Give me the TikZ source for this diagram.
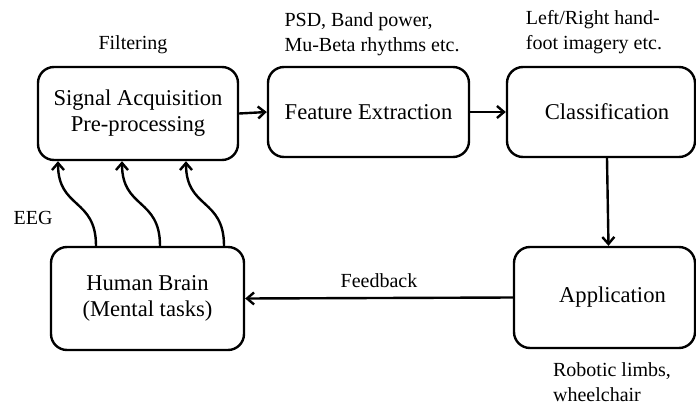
\documentclass[tikz,border=0pt]{standalone}
\usepackage{fontspec}
\setmainfont{Liberation Serif}
\usetikzlibrary{arrows.meta}

\tikzset{
  block/.style={draw, line width=1.2pt, rounded corners=8pt, align=center, font=\fontsize{11.3}{13}\selectfont},
  note/.style={align=left, font=\fontsize{10}{12.5}\selectfont},
  arr/.style={line width=1.2pt, -{Straight Barb[length=3.5pt,width=6pt]}},
}

\begin{document}
\begin{tikzpicture}[x=0.5pt,y=-0.5pt]
\useasboundingbox (0,0) rectangle (696,407);
% processing chain
\node[block, minimum width=100pt, minimum height=46.5pt] (sig) at (138,113.5) {Signal Acquisition\\Pre-processing};
\node[block, minimum width=100.5pt, minimum height=45pt] (feat) at (368.5,112) {Feature Extraction};
\node[block, minimum width=94pt, minimum height=45pt] (class) at (601,112) {\hspace{6pt}Classification};
\node[block, minimum width=90.5pt, minimum height=50.5pt] (app) at (604.5,297.5) {\hspace{8pt}Application};
\node[block, minimum width=96.5pt, minimum height=51.5pt] (brain) at (147.5,298.5) {Human Brain\\(Mental tasks)};
% side notes
\node[note] (filt) at (133,45) {Filtering};
\node[note] (psd) at (372,34) {PSD, Band power,\\Mu-Beta rhythms etc.};
\node[note] (imag) at (594,32) {Left/Right hand-\\foot imagery etc.};
\node[note] (robot) at (612,382) {Robotic limbs,\\wheelchair};
\node[note] (eeg) at (33,218) {EEG};
% arrows
\draw[arr] (sig.east) -- (feat.west); % acquisition to features
\draw[arr] (feat.east) -- (class.west); % features to classifier
\draw[arr] ([xshift=3pt]class.south) -- ([xshift=2pt]app.north); % classifier to device
\draw[arr] (app.west) -- node[note, above=1pt] (fb) {Feedback} (brain.east); % feedback
% EEG signals
\foreach \a/\b in {-25.75/-40, 6.25/-8, 38.25/24}
  \draw[arr] ([xshift=\a pt]brain.north) .. controls ([xshift=\a pt, yshift=24pt]brain.north) and ([xshift=\b pt, yshift=-24pt]sig.south) .. ([xshift=\b pt]sig.south);
\end{tikzpicture}
\end{document}
